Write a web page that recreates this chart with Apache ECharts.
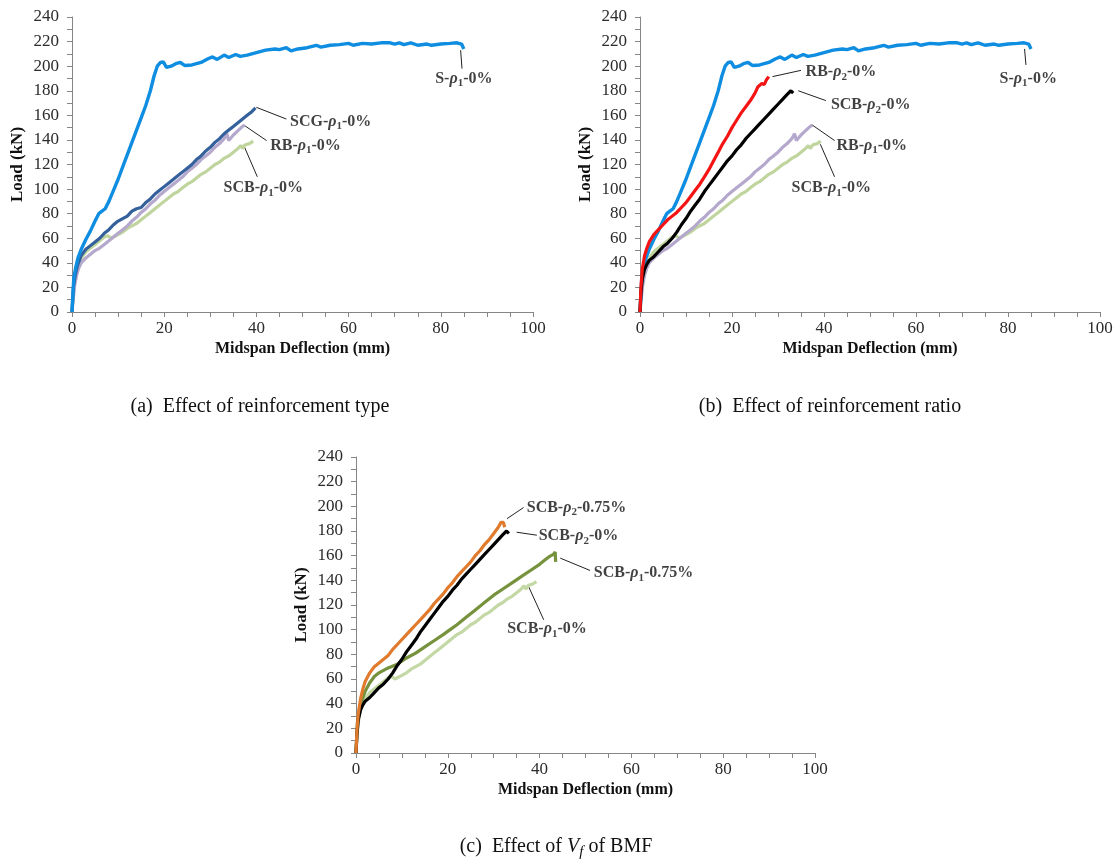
<!DOCTYPE html>
<html>
<head>
<meta charset="utf-8">
<script src="https://cdn.jsdelivr.net/npm/echarts@6/dist/echarts.min.js"></script>
<style>
    html, body { margin: 0; padding: 0; background: #fff; }
    #chart { width: 1116px; height: 862px; }
</style>
</head>
<body>
<div id="chart"></div>
<script>
// load-deflection curves, [deflection mm, load kN]
const S_r1_0 = [[0,0],[0.2,15],[0.4,28],[0.8,36],[1.3,44],[2,51],[3,59],[4,66],[5,74],[5.8,80],[6.5,82],[7.2,84],[8,90],[9,99],[10,108],[11,118],[12,128],[13,138],[14,148],[15,158],[16,168],[17,180],[17.8,192],[18.5,200],[19.2,203],[19.8,203.5],[20.5,199],[21.5,200],[22.5,202],[23.5,203],[24.5,200.5],[26,201],[28,203],[29.5,206],[30.5,207.5],[31.5,205.5],[33,209],[34,207],[35.5,209.5],[36.5,208],[38,209],[40,211],[42,213],[44,214],[45,213.5],[46.5,215],[47.5,212.5],[49,214],[51,215],[53,217],[54,215.5],[56,217],[58,217.5],[60,218.5],[61,217],[63,218.5],[65,218],[67,219],[69,219],[70,218],[71,219],[72,217.5],[73.5,219],[75,217],[77,218],[78,217],[80,218],[82,218.5],[83.5,219],[84.5,218],[85,214]]
const SCG_r1_0 = [[0,0],[0.3,20],[0.7,30],[1.2,38],[2,46],[3,51],[4,54],[5,57],[6,60],[7,64],[8,67],[9,71],[10,74],[11,76],[12,78],[13,82],[14,84],[15,85],[16,89],[17,92],[18,96],[19,99],[20,102],[21,105],[22,108],[23,111],[24,114],[25,117],[26,120],[27,124],[28,127],[29,131],[30,134],[31,138],[32,141],[33,145],[34,148],[35,151],[36,154],[37,157],[38,160],[39,163],[39.8,166]]
const RB_r1_0 = [[0,0],[0.3,12],[0.6,22],[1,30],[1.5,36],[2,40],[3,44],[4,47],[5,50],[6,52],[7,55],[8,58],[9,61],[10,64],[11,67],[12,70],[13,74],[14,77],[15,81],[16,84],[17,88],[18,91],[19,95],[20,98],[21,101],[22,104],[23,107],[24,110],[25,114],[26,117],[27,120],[28,124],[29,127],[30,130],[31,134],[32,137],[33,141],[33.6,145],[34,139.5],[35,144],[36,147.5],[37,151],[37.5,152]]
const SCB_r1_0 = [[0,0],[0.3,18],[0.7,30],[1.2,38],[2,44],[3,49],[4,52],[5,55],[6,58],[7,61],[7.8,62],[8.5,60],[9,61],[10,63],[11,65],[12,68],[13,70],[14,72],[15,75],[16,78],[17,81],[18,84],[19,87],[20,90],[21,93],[22,96],[23,98],[24,101],[25,104],[26,106],[27,109],[28,112],[29,114],[30,117],[31,120],[32,122],[33,125],[34,127],[35,130],[36,133],[36.6,135.5],[37,133],[37.6,136],[38.5,137],[39.3,139]]
const RB_r2_0 = [[0,0],[0.2,20],[0.5,35],[1,46],[1.5,52],[2,57],[3,63],[4,67],[5,71],[6,75],[7,78],[8,81],[9,85],[10,89],[11,94],[12,99],[13,104],[14,110],[15,116],[16,123],[17,130],[18,137],[19,143],[20,150],[21,156],[22,162],[23,167],[24,172],[25,178],[25.6,183],[26,182],[26.5,186],[27,185],[27.5,189],[28,191.5]]
const SCB_r2_0 = [[0,0],[0.2,15],[0.5,27],[1,35],[1.5,39],[2,42],[3,45],[4,49],[5,53],[6,56],[7,60],[8,65],[9,71],[10,76],[11,82],[12,87],[13,92],[14,98],[15,103],[16,108],[17,113],[18,118],[19,123],[20,127],[21,132],[22,136],[23,141],[24,145],[25,149],[26,153],[27,157],[28,161],[29,165],[30,169],[31,173],[32,177],[32.8,180],[33.2,181],[33.3,178]]
const SCB_r2_075 = [[0,0],[0.2,18],[0.5,32],[1,44],[1.5,52],[2,58],[3,65],[4,70],[5,73],[6,76],[7,79],[8,84],[9,88],[10,92],[11,96],[12,100],[13,104],[14,108],[15,112],[16,116],[17,121],[18,125],[19,129],[20,134],[21,138],[22,143],[23,147],[24,151],[25,155],[26,160],[27,164],[28,169],[29,173],[30,178],[31,183],[31.6,187],[32.1,187],[32.4,183]]
const SCB_r1_075 = [[0,0],[0.3,25],[1,40],[2,50],[3,57],[4,62],[5,65],[7,69],[9,72],[11,77],[13,81],[15,86],[17,91],[19,96],[20.5,100],[22,104],[24,110],[26,116],[28,122],[30,128],[32,133],[34,138],[36,143],[38,148],[40,153],[41,156],[42,159],[43,161],[43.4,163],[43.5,155]]

// annotation text: [before, subscript, after]; line from/to and text anchor in data units
const notesA = [
    {parts: ['S-', '1', '-0%'], from: [84.3, 213], to: [84.6, 198], at: [85, 190], align: 'center'},
    {parts: ['SCG-', '1', '-0%'], from: [40, 166.5], to: [46.5, 157], at: [47.3, 155], align: 'left'},
    {parts: ['RB-', '1', '-0%'], from: [37.3, 152], to: [42.2, 139.5], at: [43, 135.5], align: 'left'},
    {parts: ['SCB-', '1', '-0%'], from: [37.2, 136], to: [40.2, 110], at: [41.5, 101], align: 'center'}
]
const notesB = [
    {parts: ['S-', '1', '-0%'], from: [83.6, 214], to: [83.9, 201], at: [84.4, 190], align: 'center'},
    {parts: ['RB-', '2', '-0%'], from: [28.8, 191.5], to: [35, 196.6], at: [36, 195.5], align: 'left'},
    {parts: ['SCB-', '2', '-0%'], from: [34.4, 180], to: [40.4, 172], at: [41.5, 168.5], align: 'left'},
    {parts: ['RB-', '1', '-0%'], from: [37.3, 152.5], to: [42.3, 139.5], at: [42.7, 135.5], align: 'left'},
    {parts: ['SCB-', '1', '-0%'], from: [39.2, 136.5], to: [42.3, 110], at: [41.6, 101], align: 'center'}
]
const notesC = [
    {parts: ['SCB-', '2', '-0.75%'], from: [32.9, 190], to: [36.5, 199], at: [37.2, 199], align: 'left'},
    {parts: ['SCB-', '2', '-0%'], from: [35, 179], to: [39.4, 176.6], at: [39.8, 176], align: 'left'},
    {parts: ['SCB-', '1', '-0.75%'], from: [44.5, 158], to: [51, 148], at: [51.8, 146], align: 'left'},
    {parts: ['SCB-', '1', '-0%'], from: [37.6, 135], to: [40.9, 108], at: [41.6, 100.3], align: 'center'}
]

const SERIF = "'Liberation Serif', 'Times New Roman', serif"
const AXIS_GREY = '#868686'

const grids = [
    {left: 72, top: 17, width: 461, height: 295},
    {left: 640, top: 17, width: 460, height: 295},
    {left: 356, top: 457, width: 459, height: 296}
]

const makeX = (i) => ({
    type: 'value', gridIndex: i, min: 0, max: 100, interval: 20,
    axisLine: {lineStyle: {color: AXIS_GREY}},
    axisTick: {length: 5, lineStyle: {color: AXIS_GREY}},
    minorTick: {show: true, splitNumber: 4, length: 5, lineStyle: {color: AXIS_GREY}},
    splitLine: {show: false},
    axisLabel: {fontFamily: SERIF, fontSize: 17, color: '#2b2b2b', margin: 8},
    name: 'Midspan Deflection (mm)', nameLocation: 'middle', nameGap: 29,
    nameTextStyle: {fontFamily: SERIF, fontWeight: 'bold', fontSize: 16, color: '#111'}
})

const makeY = (i) => ({
    type: 'value', gridIndex: i, min: 0, max: 240, interval: 20,
    axisLine: {show: true, lineStyle: {color: AXIS_GREY}},
    axisTick: {show: true, length: 5, lineStyle: {color: AXIS_GREY}},
    minorTick: {show: true, splitNumber: 2, length: 5, lineStyle: {color: AXIS_GREY}},
    splitLine: {show: false},
    axisLabel: {fontFamily: SERIF, fontSize: 17, color: '#2b2b2b', margin: 13},
    name: 'Load (kN)', nameLocation: 'middle', nameGap: 46,
    nameTextStyle: {fontFamily: SERIF, fontWeight: 'bold', fontSize: 17, color: '#111'}
})

const curve = (i, data, color, width) => ({
    type: 'line', xAxisIndex: i, yAxisIndex: i, data: data,
    showSymbol: false, symbol: 'none', silent: true,
    lineStyle: {color: color, width: width || 3.2},
    animation: false
})

const leaders = (i, notes) => ({
    type: 'lines', coordinateSystem: 'cartesian2d', xAxisIndex: i, yAxisIndex: i,
    silent: true, animation: false,
    lineStyle: {color: '#222', width: 1, opacity: 1},
    data: notes.map(n => ({coords: [n.from, n.to]}))
})

const labelRich = {
    r: {fontFamily: SERIF, fontWeight: 'bold', fontStyle: 'italic', fontSize: 16, color: '#111'},
    s: {fontFamily: SERIF, fontWeight: 'bold', fontSize: 11, color: '#111', verticalAlign: 'bottom', lineHeight: 12}
}

const texts = (i, notes) => ({
    type: 'scatter', xAxisIndex: i, yAxisIndex: i, symbolSize: 0,
    silent: true, animation: false,
    data: notes.map(n => ({
        value: n.at,
        label: {
            show: true,
            position: n.align === 'left' ? 'right' : 'inside',
            distance: 0,
            formatter: n.parts[0] + '{r|ρ}{s|' + n.parts[1] + '}' + n.parts[2],
            fontFamily: SERIF, fontWeight: 'bold', fontSize: 16, lineHeight: 21, color: '#111',
            rich: labelRich
        }
    }))
})

const captionStyle = {fontFamily: SERIF, fontSize: 20, fill: '#111', align: 'center', verticalAlign: 'middle'}

let chart = echarts.init(document.getElementById('chart'))
let options = {
    backgroundColor: '#fff',
    animation: false,
    grid: grids,
    xAxis: [makeX(0), makeX(1), makeX(2)],
    yAxis: [makeY(0), makeY(1), makeY(2)],
    series: [
        // (a) effect of reinforcement type
        curve(0, SCB_r1_0, '#c0d59e'),
        curve(0, RB_r1_0, '#b4a8cc'),
        curve(0, SCG_r1_0, '#34619c'),
        curve(0, S_r1_0, '#0f8de0', 3.4),
        leaders(0, notesA),
        texts(0, notesA),
        // (b) effect of reinforcement ratio
        curve(1, SCB_r1_0, '#c0d59e'),
        curve(1, RB_r1_0, '#b4a8cc'),
        curve(1, S_r1_0, '#0f8de0', 3.4),
        curve(1, SCB_r2_0, '#000000'),
        curve(1, RB_r2_0, '#f41414'),
        leaders(1, notesB),
        texts(1, notesB),
        // (c) effect of Vf of BMF
        curve(2, SCB_r1_0, '#c3d8a4'),
        curve(2, SCB_r1_075, '#76923c'),
        curve(2, SCB_r2_0, '#000000'),
        curve(2, SCB_r2_075, '#e07a2c'),
        leaders(2, notesC),
        texts(2, notesC)
    ],
    graphic: [
        {type: 'text', x: 260, y: 407, style: Object.assign({text: '(a)  Effect of reinforcement type'}, captionStyle)},
        {type: 'text', x: 830, y: 407, style: Object.assign({text: '(b)  Effect of reinforcement ratio'}, captionStyle)},
        {
            type: 'text', x: 556, y: 847,
            style: Object.assign({
                text: '(c)  Effect of {i|V}{s|f} of BMF',
                rich: {
                    i: {fontFamily: SERIF, fontStyle: 'italic', fontSize: 20, fill: '#111'},
                    s: {fontFamily: SERIF, fontStyle: 'italic', fontSize: 15, fill: '#111', verticalAlign: 'bottom', lineHeight: 15}
                },
                lineHeight: 25
            }, captionStyle)
        }
    ]
}
chart.setOption(options)
</script>
</body>
</html>
